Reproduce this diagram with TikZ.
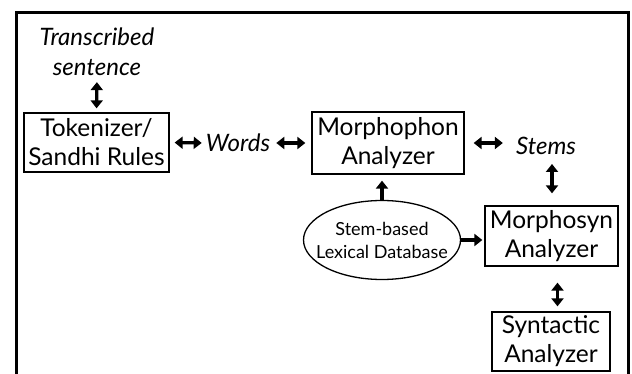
\documentclass[tikz,border=0pt]{standalone}
\usepackage{fontspec}
\setmainfont{Lato}
\usetikzlibrary{arrows.meta,shapes.geometric}
\begin{document}
\begin{tikzpicture}[x=1pt,y=-1pt,
  box/.style={draw,line width=1.3pt,minimum width=#1,inner sep=0pt,align=center,font=\fontsize{24.5}{29}\selectfont},
  lbl/.style={font=\fontsize{24}{30}\selectfont\itshape,align=center,inner sep=0pt},
  dbl/.style={line width=3.2pt,{Triangle[width=12pt,length=8pt]}-{Triangle[width=12pt,length=8pt]}},
  sgl/.style={line width=3.2pt,-{Triangle[width=12pt,length=8pt]}}]
\useasboundingbox (0,0) rectangle (632,374);
\draw[line width=3pt] (16.5,380) -- (16.5,12.5) -- (628,12.5) -- (628,380);
\node[lbl] (trans) at (97,52) {Transcribed\\sentence};
\node[box=145pt,minimum height=59pt] (tok) at (96.5,142.5) {Tokenizer/\\Sandhi Rules};
\node[lbl] (words) at (238,143) {Words};
\node[box=152pt,minimum height=62pt] (mph) at (388,143) {Morphophon\\Analyzer};
\node[lbl] (stems) at (546,146) {Stems};
\node[draw,ellipse,line width=1.3pt,minimum width=157pt,minimum height=79pt,inner xsep=-14pt,inner ysep=4pt,align=center,font=\fontsize{18}{23}\selectfont] (db) at (382,240) {Stem-based\\Lexical Database};
\node[box=133pt,minimum height=60pt] (msyn) at (551.5,236) {Morphosyn\\Analyzer};
\node[box=118pt,minimum height=59pt] (syn) at (551,341.5) {Syntactic\\Analyzer};
\draw[dbl,shorten <=6pt,shorten >=4pt] (trans.south) -- (tok.north);
\draw[dbl,shorten <=5pt,shorten >=4pt] (tok.east) -- (words.west);
\draw[dbl,shorten <=6pt,shorten >=6pt] (words.east) -- (mph.west);
\draw[dbl,shorten <=9pt,shorten >=13pt] (mph.east) -- (stems.west |- mph.east);
\draw[dbl,shorten <=9pt,shorten >=12pt] ([xshift=6pt]stems.south) -- ([xshift=6pt]stems.south |- msyn.north);
\draw[sgl,shorten >=6pt] (db.north) -- (db.north |- mph.south);
\draw[sgl,shorten >=2pt] (db.east) -- (db.east -| msyn.west);
\draw[dbl,shorten <=16pt,shorten >=5pt] ([xshift=6pt]msyn.south) -- ([xshift=6pt]msyn.south |- syn.north);
\end{tikzpicture}
\end{document}
